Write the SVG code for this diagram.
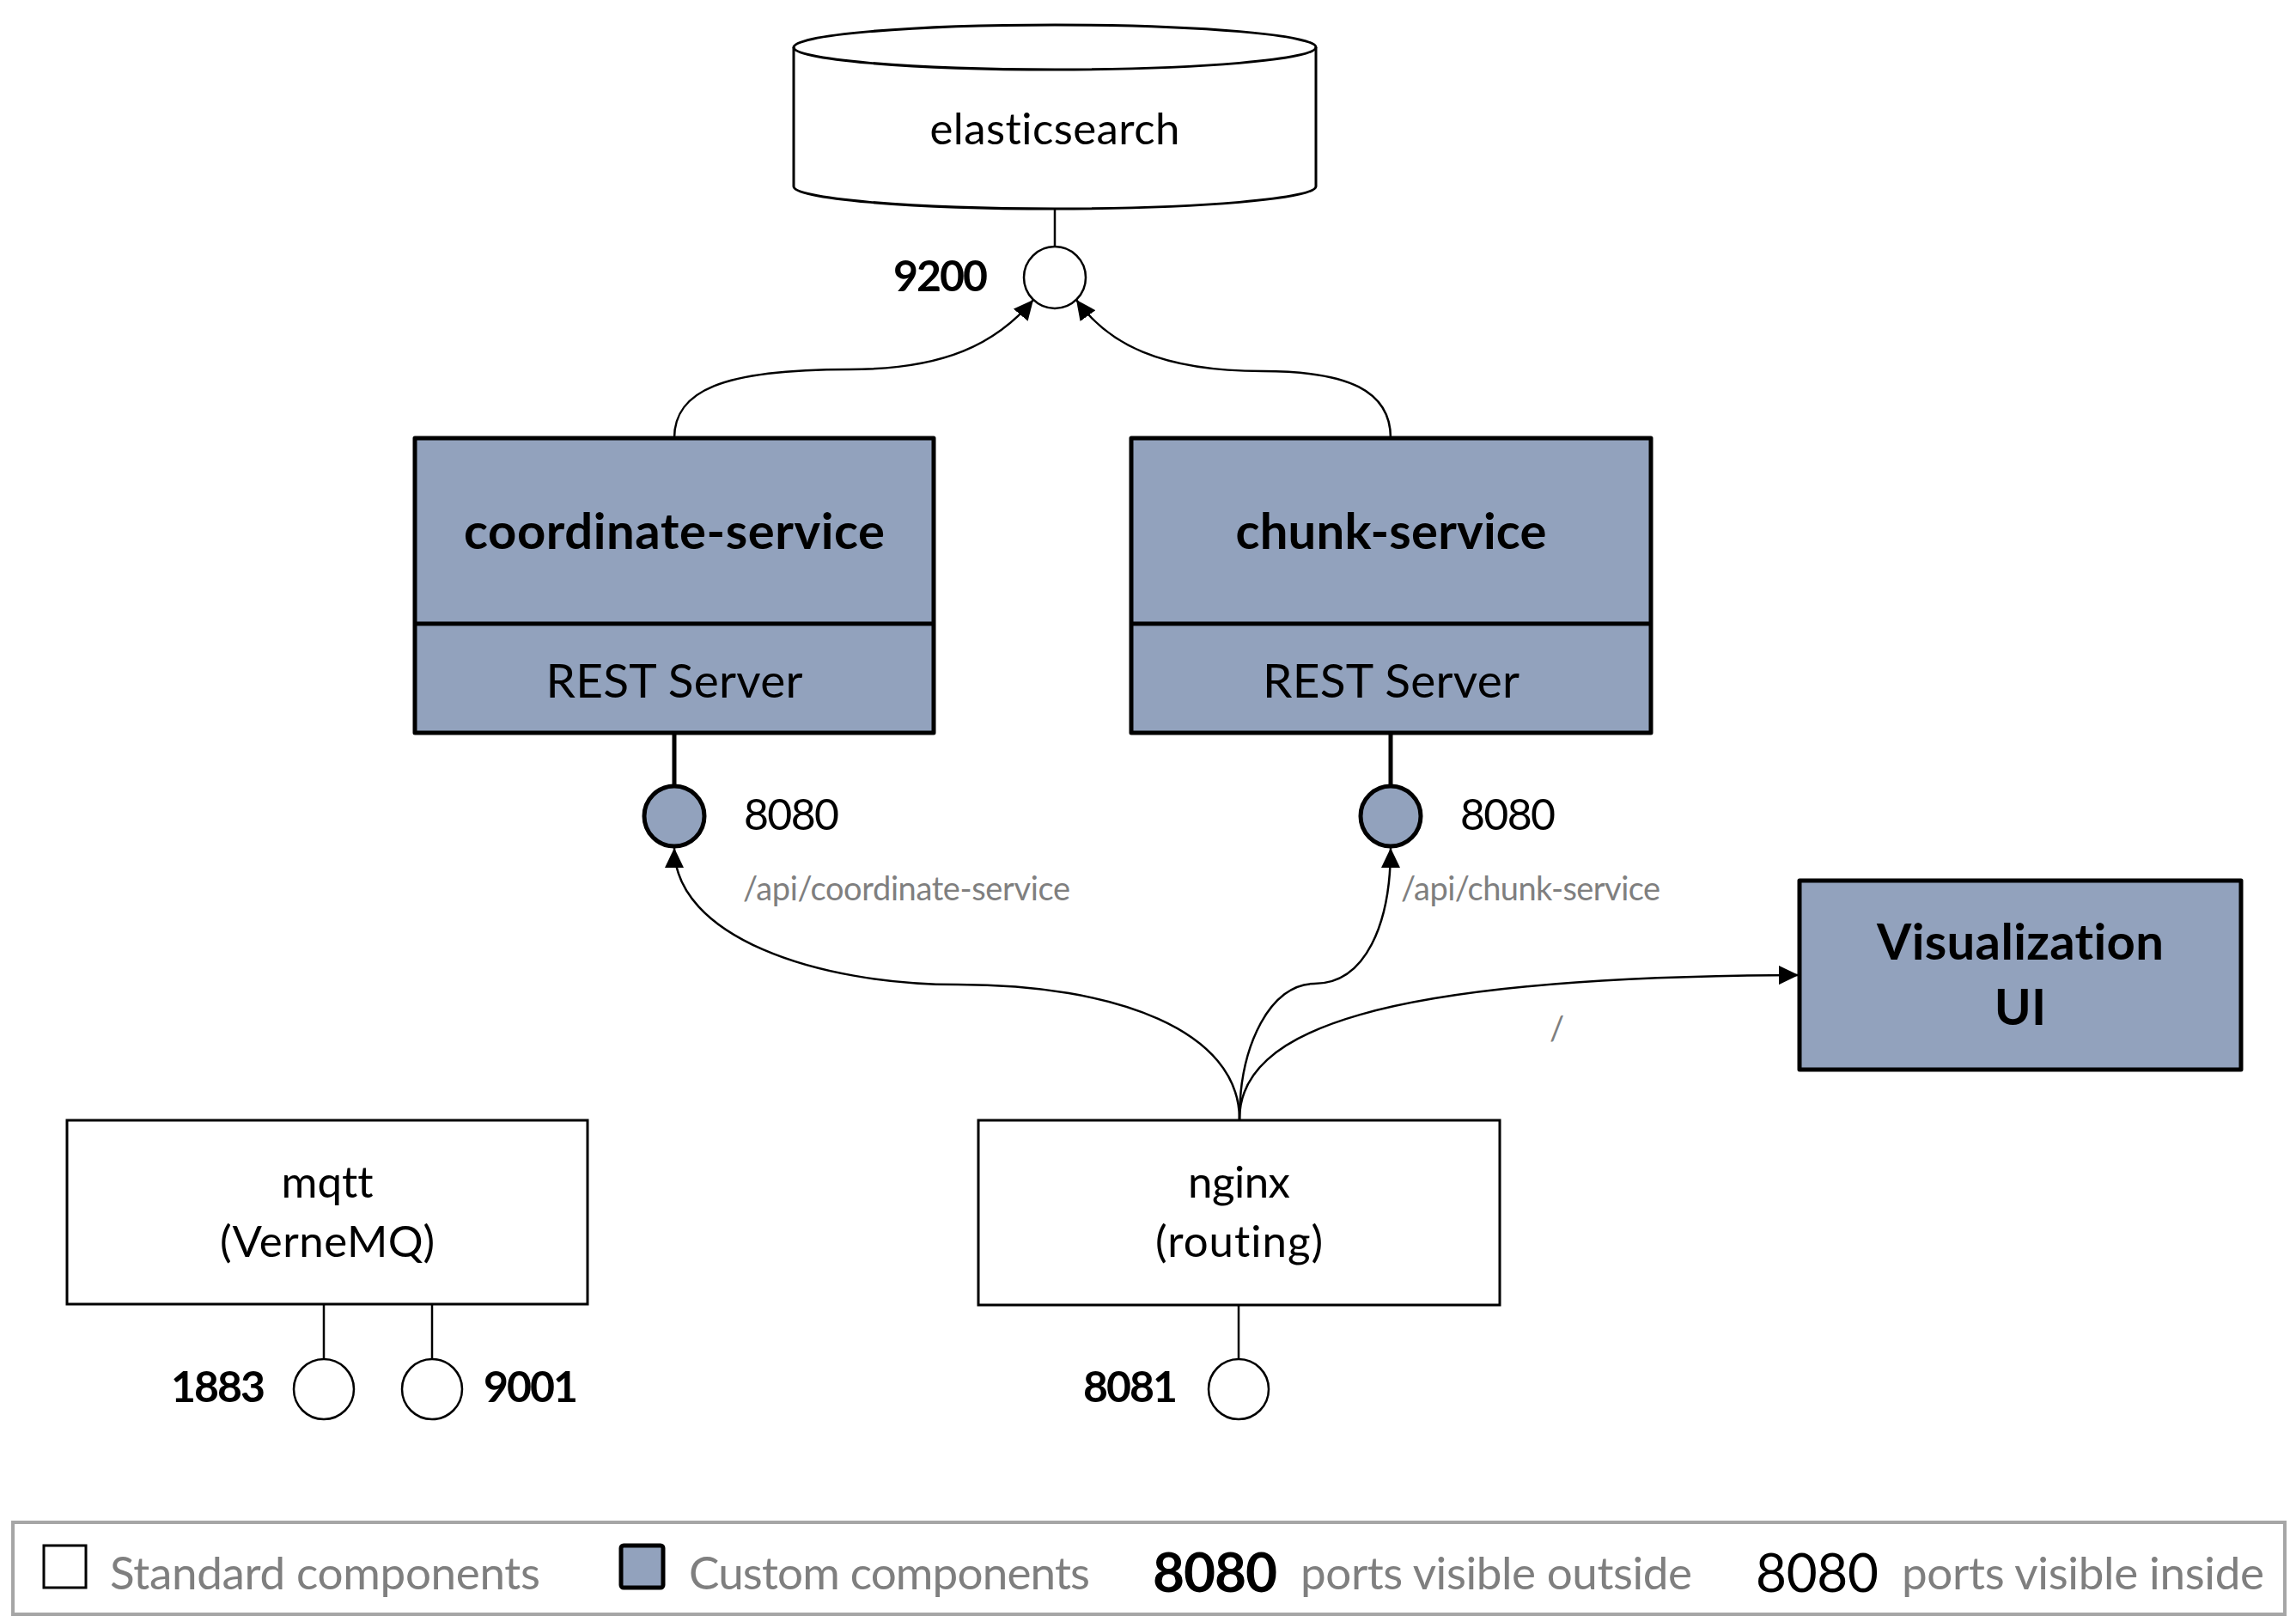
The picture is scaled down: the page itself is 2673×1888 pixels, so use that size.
<svg xmlns="http://www.w3.org/2000/svg" width="2673" height="1888" viewBox="0 0 2673 1888">
<style>
  text { font-family: Lato, "Liberation Sans", sans-serif; fill: #000; font-variant-ligatures: none; }
  .lbl { font-size: 51px; text-anchor: middle; }
  .title { font-size: 58px; font-weight: bold; text-anchor: middle; }
  .sub { font-size: 55px; text-anchor: middle; }
  .pin { font-size: 50px; }
  .pout { font-size: 50px; font-weight: bold; }
  .route { font-size: 38px; fill: #7F7F7F; }
  .leg { font-size: 53px; fill: #7F7F7F; }
  .std { fill: #fff; stroke: #000; stroke-width: 3; }
  .cust { fill: #92A2BD; stroke: #000; stroke-width: 5; stroke-linejoin: round; }
  .stem { stroke: #000; stroke-width: 2.5; }
  .stemc { stroke: #000; stroke-width: 5; }
  .pstd { fill: #fff; stroke: #000; stroke-width: 2.5; }
  .pcust { fill: #92A2BD; stroke: #000; stroke-width: 5; }
  .conn { fill: none; stroke: #000; stroke-width: 2.5; marker-end: url(#arr); }
</style>
<defs>
  <marker id="arr" markerUnits="userSpaceOnUse" markerWidth="24" markerHeight="22" refX="23" refY="11" orient="auto" viewBox="0 0 24 22">
    <path d="M0,0 L23,11 L0,22 Z" fill="#000"/>
  </marker>
</defs>
<rect width="2673" height="1888" fill="#fff"/>

<g id="elasticsearch">
  <path class="std" d="M924,55 L924,217 A304,26 0 0 0 1532,217 L1532,55 A304,26 0 0 0 924,55 Z"/>
  <path d="M924,55 A304,26 0 0 0 1532,55" fill="none" stroke="#000" stroke-width="3"/>
  <text class="lbl" x="1228" y="168" textLength="291">elasticsearch</text>
  <line class="stem" x1="1228" y1="243" x2="1228" y2="287"/>
  <circle class="pstd" cx="1228" cy="323" r="36"/>
  <text class="pout" x="1150" y="339" text-anchor="end" textLength="110">9200</text>
</g>

<g id="coordinate-service">
  <rect class="cust" x="483" y="510" width="604" height="343"/>
  <line x1="483" y1="726" x2="1087" y2="726" stroke="#000" stroke-width="5"/>
  <text class="title" x="785" y="639" textLength="490">coordinate-service</text>
  <text class="sub" x="785" y="812" textLength="299">REST Server</text>
  <line class="stemc" x1="785" y1="853" x2="785" y2="915"/>
  <circle class="pcust" cx="785" cy="950" r="35"/>
  <text class="pin" x="866" y="966" textLength="111">8080</text>
</g>

<g id="chunk-service">
  <rect class="cust" x="1317" y="510" width="605" height="343"/>
  <line x1="1317" y1="726" x2="1922" y2="726" stroke="#000" stroke-width="5"/>
  <text class="title" x="1619.5" y="639" textLength="362">chunk-service</text>
  <text class="sub" x="1619.5" y="812" textLength="299">REST Server</text>
  <line class="stemc" x1="1619" y1="853" x2="1619" y2="915"/>
  <circle class="pcust" cx="1619" cy="950" r="35"/>
  <text class="pin" x="1700" y="966" textLength="111">8080</text>
</g>

<g id="visualization-ui">
  <rect class="cust" x="2095" y="1025" width="514" height="220"/>
  <text class="title" x="2352" y="1117" font-size="56" textLength="334">Visualization</text>
  <text class="title" x="2352" y="1193" font-size="56">UI</text>
</g>

<g id="mqtt">
  <rect class="std" x="78" y="1304" width="606" height="214"/>
  <text class="lbl" x="381" y="1394" textLength="107">mqtt</text>
  <text class="lbl" x="381" y="1463" textLength="250">(VerneMQ)</text>
  <line class="stem" x1="377" y1="1518" x2="377" y2="1582"/>
  <circle class="pstd" cx="377" cy="1617" r="35"/>
  <text class="pout" x="199" y="1632" textLength="110">1883</text>
  <line class="stem" x1="503" y1="1518" x2="503" y2="1582"/>
  <circle class="pstd" cx="503" cy="1617" r="35"/>
  <text class="pout" x="563" y="1632" textLength="110">9001</text>
</g>

<g id="nginx">
  <rect class="std" x="1139" y="1304" width="607" height="215"/>
  <text class="lbl" x="1442.5" y="1394" textLength="119">nginx</text>
  <text class="lbl" x="1442.5" y="1463" textLength="195">(routing)</text>
  <line class="stem" x1="1442" y1="1519" x2="1442" y2="1582"/>
  <circle class="pstd" cx="1442" cy="1617" r="35"/>
  <text class="pout" x="1261" y="1632" textLength="110">8081</text>
</g>

<g id="connectors">
  <path class="conn" d="M785,510 C785,455 840,430 989,430 C1100,430 1160,400 1203,349"/>
  <path class="conn" d="M1619,510 C1619,455 1570,432 1470,432 C1350,432 1290,400 1253,349"/>
  <path class="conn" d="M1443,1303 C1443,1200 1300,1146 1115,1146 C950,1146 785,1090 785,987"/>
  <path class="conn" d="M1443,1303 C1443,1215 1480,1145 1530,1145 C1590,1145 1619,1075 1619,987"/>
  <path class="conn" d="M1443,1303 C1443,1200 1600,1137 2094,1135"/>
  <text class="route" x="865" y="1048" textLength="381">/api/coordinate-service</text>
  <text class="route" x="1631" y="1048" textLength="302">/api/chunk-service</text>
  <text class="route" x="1804" y="1211">/</text>
</g>

<g id="legend">
  <rect x="15" y="1772" width="2645" height="107" fill="none" stroke="#A6A6A6" stroke-width="4"/>
  <rect x="51" y="1799" width="49" height="49" fill="#fff" stroke="#000" stroke-width="3"/>
  <text class="leg" x="128" y="1850" textLength="501">Standard components</text>
  <rect x="723" y="1799" width="49" height="49" rx="3" fill="#92A2BD" stroke="#000" stroke-width="5"/>
  <text class="leg" x="802" y="1850" textLength="467">Custom components</text>
  <text x="1342" y="1853" font-size="64" font-weight="bold" textLength="145">8080</text>
  <text class="leg" x="1514" y="1850" textLength="456">ports visible outside</text>
  <text x="2044" y="1853" font-size="62" textLength="143">8080</text>
  <text class="leg" x="2214" y="1850" textLength="422">ports visible inside</text>
</g>
</svg>
